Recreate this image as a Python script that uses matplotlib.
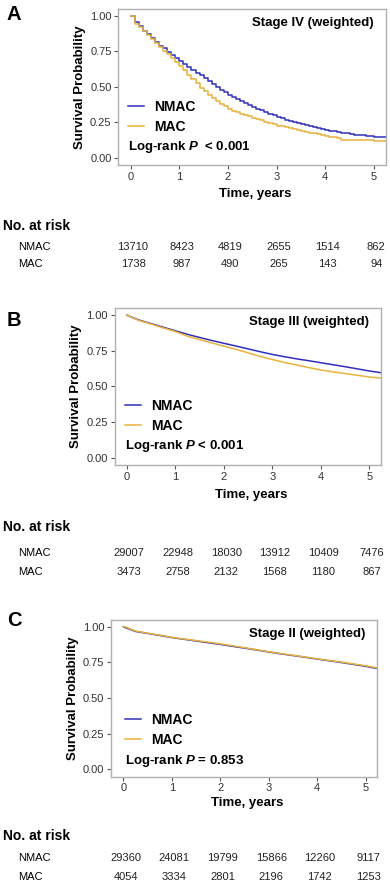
import numpy as np
import matplotlib
matplotlib.use("Agg")
import matplotlib.pyplot as plt
from matplotlib.transforms import blended_transform_factory

plt.rcParams['font.family'] = ['Liberation Sans', 'DejaVu Sans']
plt.rcParams['mathtext.fontset'] = 'custom'
plt.rcParams['mathtext.rm'] = 'Liberation Sans'
plt.rcParams['mathtext.it'] = 'Liberation Sans:italic'
plt.rcParams['mathtext.bf'] = 'Liberation Sans:bold'
plt.rcParams['mathtext.bfit'] = 'Liberation Sans:italic:bold'

# ---- data ----
groups = ['NMAC', 'MAC']
colors = ['#2f2fbd', '#e9b23a']
risk_times = [0, 1, 2, 3, 4, 5]

# Stage IV: monthly Kaplan-Meier steps
t_iv = [k / 12 for k in range(64)]
nmac_iv = [1.000, 0.955, 0.930, 0.895, 0.870, 0.840, 0.815, 0.790, 0.770, 0.745,
           0.725, 0.705, 0.685, 0.660, 0.640, 0.620, 0.600, 0.580, 0.560, 0.540,
           0.520, 0.500, 0.480, 0.462, 0.445, 0.430, 0.415, 0.400, 0.386, 0.373,
           0.360, 0.347, 0.334, 0.322, 0.311, 0.300, 0.290, 0.280, 0.270, 0.260,
           0.252, 0.244, 0.236, 0.229, 0.222, 0.215, 0.209, 0.203, 0.197, 0.192,
           0.187, 0.182, 0.177, 0.173, 0.169, 0.165, 0.162, 0.159, 0.156, 0.153,
           0.151, 0.149, 0.147, 0.145]
mac_iv = [1.000, 0.945, 0.920, 0.890, 0.865, 0.835, 0.810, 0.780, 0.755, 0.730,
          0.700, 0.675, 0.650, 0.615, 0.585, 0.555, 0.525, 0.495, 0.470, 0.445,
          0.420, 0.400, 0.380, 0.362, 0.345, 0.333, 0.322, 0.312, 0.302, 0.292,
          0.282, 0.273, 0.264, 0.255, 0.246, 0.237, 0.228, 0.222, 0.215, 0.209,
          0.203, 0.197, 0.191, 0.185, 0.179, 0.173, 0.167, 0.161, 0.156, 0.151,
          0.146, 0.140, 0.127, 0.126, 0.125, 0.125, 0.124, 0.124, 0.123, 0.123,
          0.122, 0.122, 0.121, 0.121]
risk_nmac_iv = [13710, 8423, 4819, 2655, 1514, 862]
risk_mac_iv = [1738, 987, 490, 265, 143, 94]

# Stage III
t_q = [0, 0.03, 0.25, 0.5, 0.75, 1.0, 1.25, 1.5, 1.75, 2.0, 2.25, 2.5, 2.75,
       3.0, 3.25, 3.5, 3.75, 4.0, 4.25, 4.5, 4.75, 5.0, 5.24]
nmac_iii = [1.0, 0.995, 0.965, 0.940, 0.915, 0.890, 0.865, 0.843, 0.822, 0.802,
            0.783, 0.763, 0.743, 0.724, 0.708, 0.693, 0.680, 0.666, 0.652, 0.638,
            0.623, 0.608, 0.596]
mac_iii = [1.0, 0.995, 0.962, 0.937, 0.910, 0.885, 0.852, 0.828, 0.805, 0.782,
           0.760, 0.735, 0.710, 0.688, 0.668, 0.650, 0.632, 0.615, 0.602, 0.590,
           0.578, 0.566, 0.558]
risk_nmac_iii = [29007, 22948, 18030, 13912, 10409, 7476]
risk_mac_iii = [3473, 2758, 2132, 1568, 1180, 867]

# Stage II
nmac_ii = [1.0, 0.995, 0.967, 0.953, 0.939, 0.924, 0.912, 0.900, 0.888, 0.876,
           0.863, 0.850, 0.837, 0.823, 0.810, 0.798, 0.786, 0.773, 0.761, 0.749,
           0.736, 0.722, 0.707]
mac_ii = [1.0, 1.0, 0.970, 0.955, 0.941, 0.926, 0.914, 0.903, 0.892, 0.880,
          0.867, 0.853, 0.839, 0.825, 0.812, 0.800, 0.788, 0.775, 0.763, 0.752,
          0.739, 0.726, 0.711]
risk_nmac_ii = [29360, 24081, 19799, 15866, 12260, 9117]
risk_mac_ii = [4054, 3334, 2801, 2196, 1742, 1253]

W, H = 390, 889
fig = plt.figure(figsize=(W / 100, H / 100), dpi=100)


def fx(px):
    return px / W


def fy(py):
    return 1 - py / H


panels = [
    dict(letter='A', rect=(118.5, 8.6, 267, 156.5), t=[t_iv, t_iv], s=[nmac_iv, mac_iv],
         steps=True, title='Stage IV (weighted)',
         ptext=r'Log-rank $\mathbfit{P}$  < 0.001',
         risk=[risk_nmac_iv, risk_mac_iv], letter_y=14, xlab_y=193.5,
         risk_head_y=225.7, row_y=[247.5, 264], leg_x=128, leg_y=[107, 126], p_y=147),
    dict(letter='B', rect=(114.6, 307.9, 266.4, 157), t=[t_q, t_q], s=[nmac_iii, mac_iii],
         steps=False, title='Stage III (weighted)',
         ptext=r'Log-rank $\mathbfit{P}$ < 0.001',
         risk=[risk_nmac_iii, risk_mac_iii], letter_y=320, xlab_y=495,
         risk_head_y=527, row_y=[552.5, 572], leg_x=125, leg_y=[406, 425], p_y=446),
    dict(letter='C', rect=(111.2, 619.6, 266.2, 156.9), t=[t_q, t_q], s=[nmac_ii, mac_ii],
         steps=False, title='Stage II (weighted)',
         ptext=r'Log-rank $\mathbfit{P}$ = 0.853',
         risk=[risk_nmac_ii, risk_mac_ii], letter_y=621, xlab_y=803,
         risk_head_y=836, row_y=[858, 876.7], leg_x=125, leg_y=[720, 740], p_y=760.7),
]

for p in panels:
    l, t, w, h = p['rect']
    ax = fig.add_axes([fx(l), fy(t + h), w / W, h / H])
    for tt, ss, c, g in zip(p['t'], p['s'], colors, groups):
        ax.plot(tt, ss, color=c, lw=1.1, label=g,
                drawstyle='steps-post' if p['steps'] else 'default')
    ax.set_xlim(-0.25, 5.24)
    ax.set_ylim(-0.05, 1.05)
    ax.set_xticks(risk_times)
    ax.set_yticks([0, 0.25, 0.5, 0.75, 1.0])
    ax.set_yticklabels(['0.00', '0.25', '0.50', '0.75', '1.00'])
    ax.tick_params(length=3, width=0.8, color='#555555', labelsize=8,
                   labelcolor='#333333', pad=2)
    for sp in ax.spines.values():
        sp.set_color('#b0b0b0')
        sp.set_linewidth(1.0)
    ax.set_ylabel('Survival Probability', fontsize=9.5, fontweight='bold', labelpad=3)
    ax.text(0.955, 1 - 14.5 / h, p['title'], transform=ax.transAxes, ha='right',
            va='center', fontsize=9.5, fontweight='bold')

    # legend
    leg = ax.legend(loc='upper left', frameon=False, fontsize=10,
                    handlelength=1.15, handletextpad=0.75, labelspacing=0.45,
                    borderpad=0, borderaxespad=0,
                    bbox_to_anchor=(fx(p['leg_x']), fy(p['leg_y'][0] - 7)),
                    bbox_transform=fig.transFigure)
    for txt in leg.get_texts():
        txt.set_fontweight('bold')

    fig.text(fx(p['leg_x']), fy(p['p_y']), p['ptext'], ha='left', va='center',
             fontsize=9.5, fontweight='bold')

    # panel letter and x label
    fig.text(fx(7), fy(p['letter_y']), p['letter'], ha='left', va='center',
             fontsize=14.5, fontweight='bold')
    fig.text(fx(l + w / 2 + 3), fy(p['xlab_y']), 'Time, years', ha='center',
             va='center', fontsize=9.5, fontweight='bold')

    # risk table
    fig.text(fx(3), fy(p['risk_head_y']), 'No. at risk', ha='left', va='center',
             fontsize=10, fontweight='bold')
    tr = blended_transform_factory(ax.transData, fig.transFigure)
    for g, counts, ry in zip(groups, p['risk'], p['row_y']):
        fig.text(fx(18), fy(ry), g, ha='left', va='center', fontsize=8)
        for tt, n in zip(risk_times, counts):
            fig.text(tt + 0.05, fy(ry), str(n), ha='center', va='center',
                     fontsize=8, color='#222222', transform=tr)

fig.savefig('out.png', dpi=100)
